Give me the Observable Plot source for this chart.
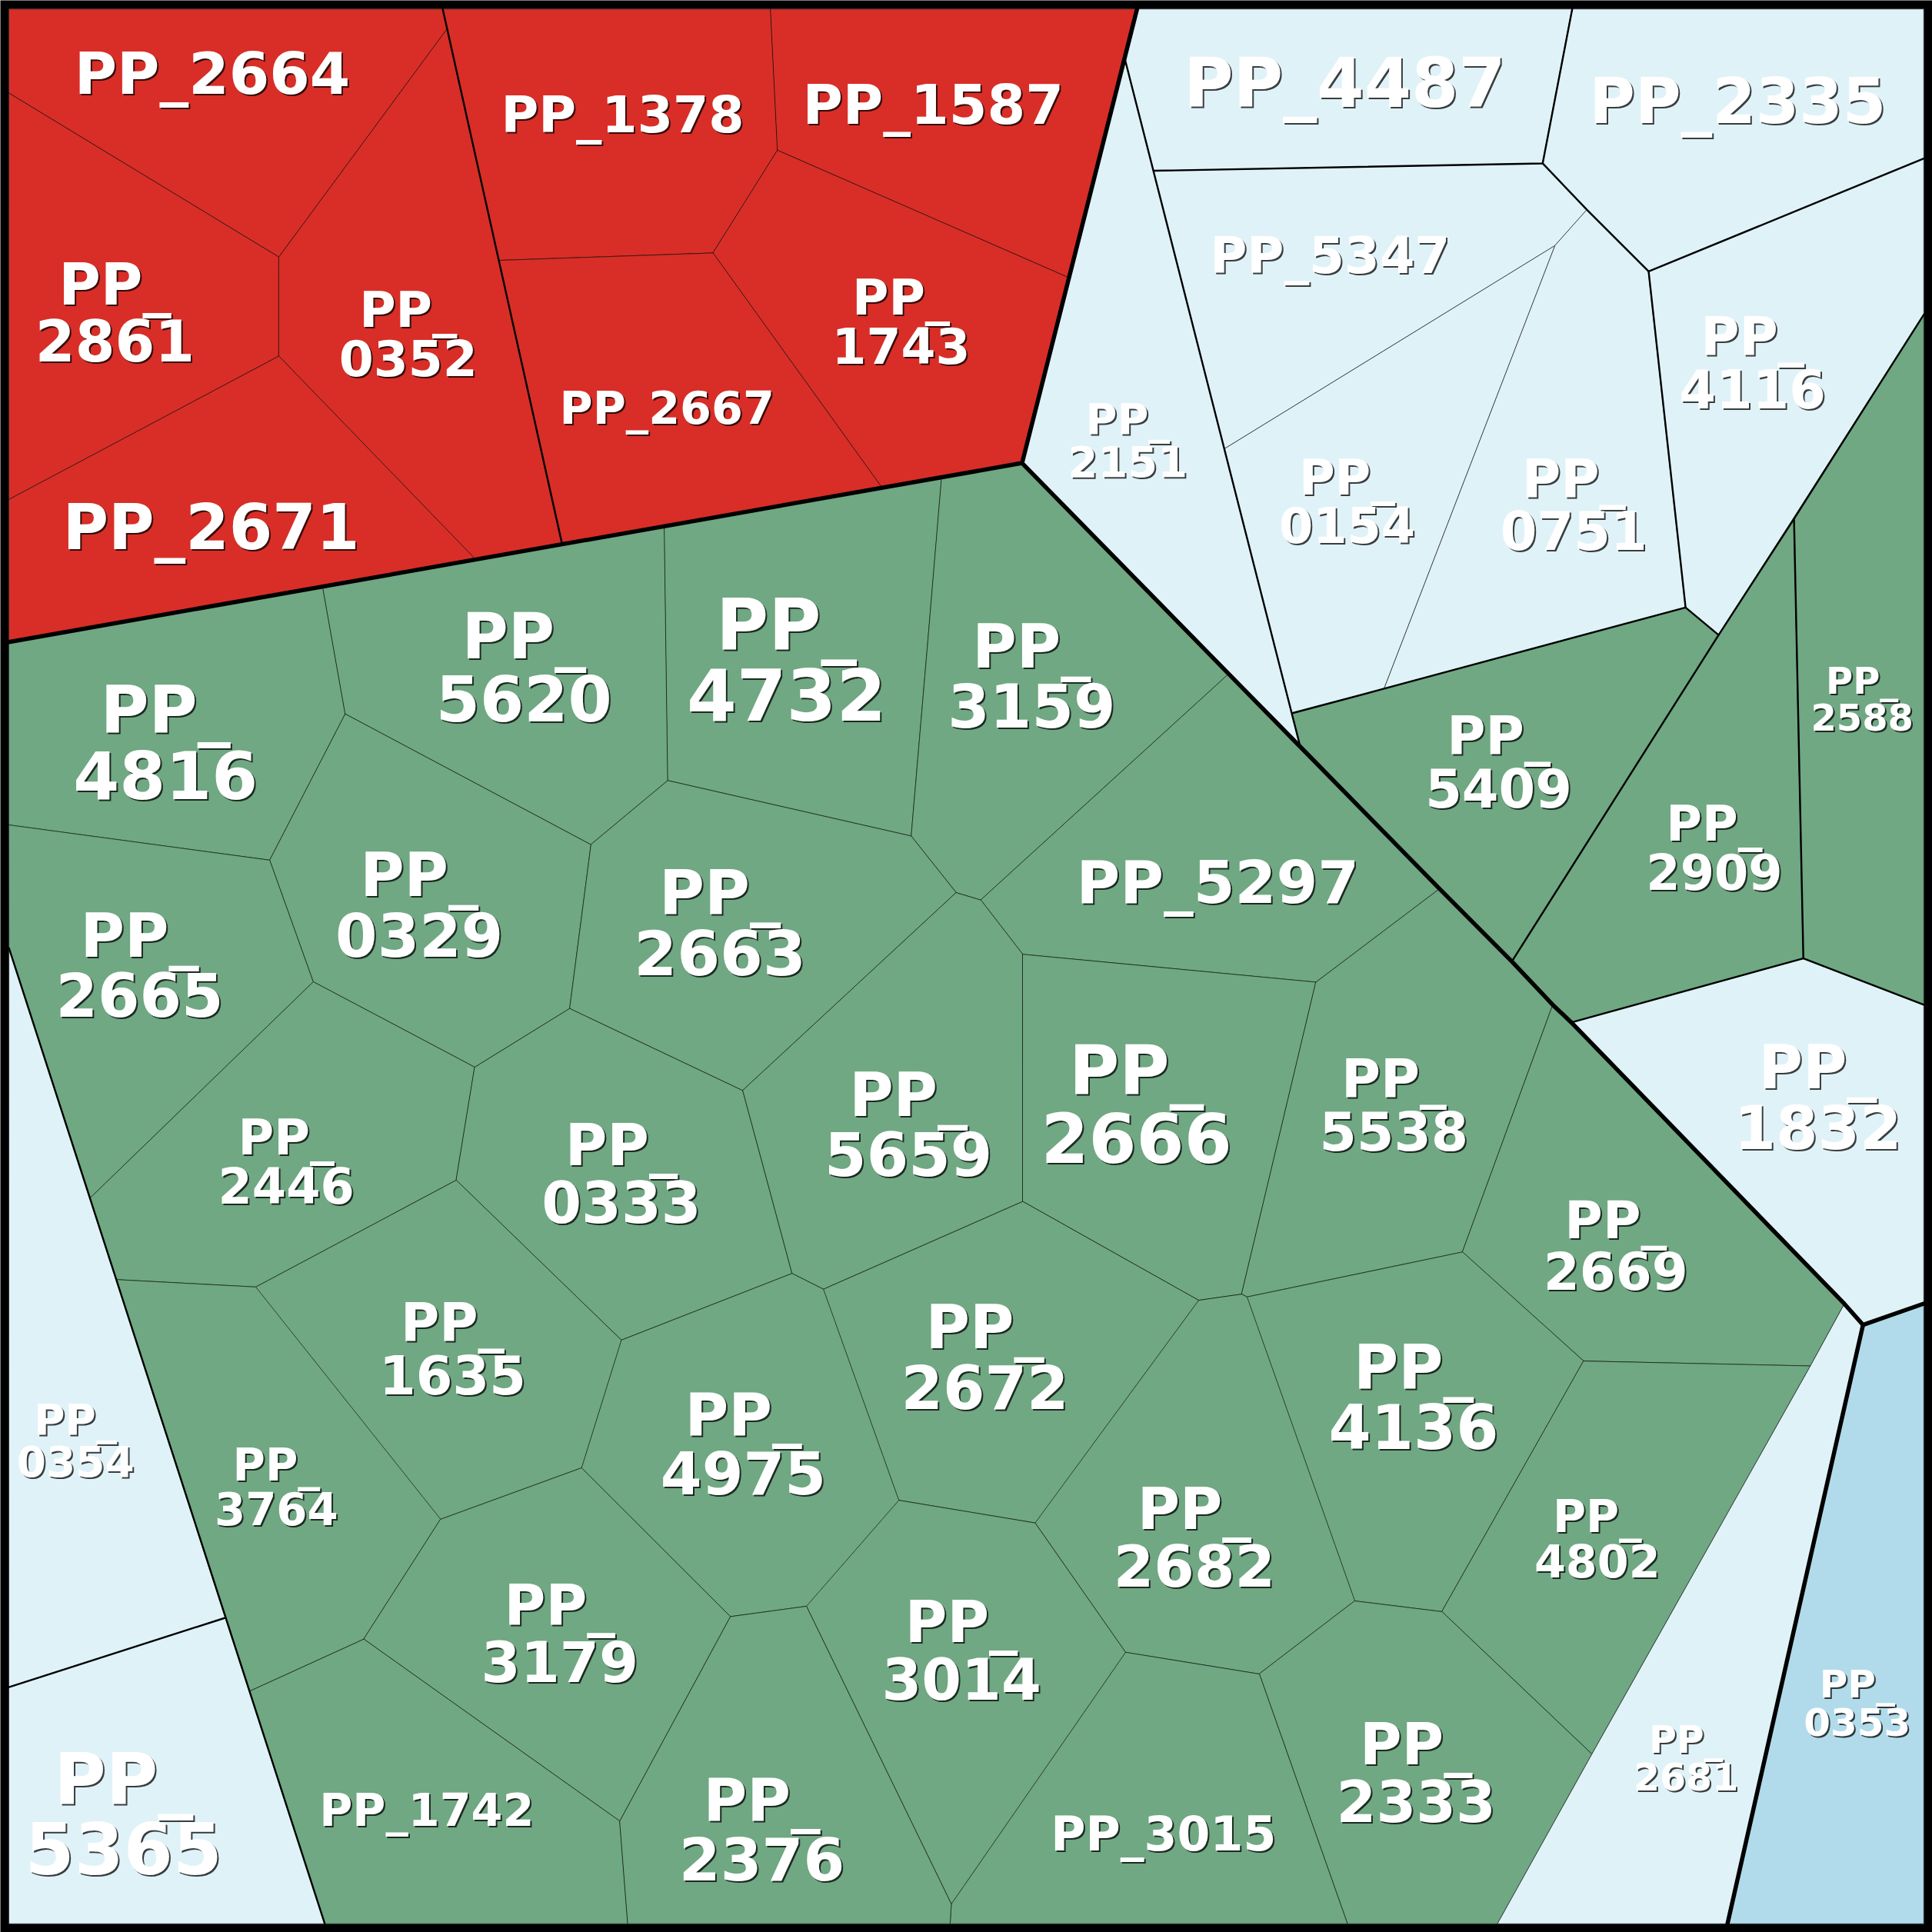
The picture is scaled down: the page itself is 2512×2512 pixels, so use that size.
<!DOCTYPE html>
<html><head><meta charset="utf-8">
<script src="https://cdn.jsdelivr.net/npm/d3@7"></script>
<script src="https://cdn.jsdelivr.net/npm/@observablehq/plot@0.6"></script>
<style>
html,body{margin:0;padding:0;background:#fff;}
svg{display:block;}
g.cell-labels text{filter:drop-shadow(2px 2px 0 rgba(0,0,0,0.75));}
</style>
</head><body><div id="chart"></div>
<script>
const groupNames = ["red", "green", "light", "blue"];
const groupColors = ["#d82e27", "#6fa882", "#dff2f8", "#b1dbea"];

const cellNames = [
  "PP_2664","PP_2861","PP_0352","PP_2671","PP_1378","PP_1587","PP_2667","PP_1743",
  "PP_4487","PP_2335","PP_5347","PP_2151","PP_0154","PP_0751","PP_4116",
  "PP_5409","PP_2909","PP_2588","PP_1832",
  "PP_4816","PP_5620","PP_4732","PP_3159","PP_5297","PP_2665","PP_0329","PP_2663",
  "PP_2446","PP_0333","PP_5659","PP_2666","PP_5538","PP_2669","PP_4136","PP_4802",
  "PP_2682","PP_2333","PP_3015","PP_2672","PP_3014","PP_4975","PP_1635","PP_3764",
  "PP_3179","PP_1742","PP_2376",
  "PP_0354","PP_5365","PP_2681","PP_0353"
];
const cellGroups = [
  "red","red","red","red","red","red","red","red",
  "light","light","light","light","light","light","light",
  "green","green","green","light",
  "green","green","green","green","green","green","green","green",
  "green","green","green","green","green","green","green","green",
  "green","green","green","green","green","green","green","green",
  "green","green","green",
  "light","light","light","blue"
];
// labels written on one line; the others wrap after "PP_"
const oneLineLabels = ["PP_2664","PP_1378","PP_1587","PP_2671","PP_2667","PP_5297","PP_1742","PP_3015","PP_4487","PP_2335","PP_5347"];

const cellPolygons = [
  [[7,7],[359,7],[362.6,23],[226,208.3],[7,75.3]],
  [[7,75.3],[226,208.3],[226,288.7],[7,405]],
  [[226,208.3],[362.6,23],[456,441.7],[386,454],[226,288.7]],
  [[7,405],[226,288.7],[386,454],[7,520.7]],
  [[359,7],[625.2,7],[630.8,121.7],[578.5,205],[404.5,211]],
  [[625.2,7],[922.5,7],[867,225],[630.8,121.7]],
  [[404.5,211],[578.5,205],[716,396],[456,441.7]],
  [[630.8,121.7],[867,225],[829.2,375.5],[716,396],[578.5,205]],
  [[922.5,7],[1275.7,7],[1251.7,132.3],[936,138.3],[912.4,46.7]],
  [[1275.7,7],[1561,7],[1561,128.3],[1337.7,220],[1287.7,170],[1251.7,132.3]],
  [[936,138.3],[1251.7,132.3],[1287.7,170],[1261.7,199],[993.3,364]],
  [[912.4,46.7],[1055,605.8],[829.2,375.5]],
  [[993.3,364],[1261.7,199],[1123,558.6],[1048.5,578.5]],
  [[1287.7,170],[1337.7,220],[1367.7,492.7],[1123,558.6],[1261.7,199]],
  [[1337.7,220],[1561,128.3],[1561,255],[1394.5,515],[1367.7,492.7]],
  [[1048.5,578.5],[1123,558.6],[1367.7,492.7],[1394.5,515],[1226.7,780],[1055,605.8]],
  [[1394.5,515],[1455.7,420.7],[1463.3,777.5],[1275,829.5],[1226.7,780]],
  [[1455.7,420.7],[1561,255],[1561,815.2],[1463.3,777.5]],
  [[1275,829.5],[1463.3,777.5],[1561,815.2],[1561,1057.7],[1511.7,1075],[1496.7,1058]],
  [[7,520.7],[261.7,475.9],[280,579.2],[218.7,697.8],[7,669.2]],
  [[261.7,475.9],[539,427.1],[541.8,633.2],[479.3,685.2],[280,579.2]],
  [[539,427.1],[764,387.5],[752.5,522.5],[739.2,678.2],[541.8,633.2]],
  [[764,387.5],[829.2,375.5],[997,546.7],[795.8,730.2],[775.8,724.2],[739.2,678.2],[752.5,522.5]],
  [[997,546.7],[1168,721],[1067.7,796.8],[829.8,774.2],[795.8,730.2]],
  [[7,669.2],[218.7,697.8],[254,796.5],[73,971.8],[7,769.2]],
  [[280,579.2],[479.3,685.2],[462,818.2],[385,865.8],[254,796.5],[218.7,697.8]],
  [[541.8,633.2],[739.2,678.2],[775.8,724.2],[602.5,884.8],[462,818.2],[479.3,685.2]],
  [[73,971.8],[254,796.5],[385,865.8],[370,957.5],[207.3,1044.2],[94.2,1038.2]],
  [[385,865.8],[462,818.2],[602.5,884.8],[642.5,1033.2],[504,1087.3],[370,957.5]],
  [[775.8,724.2],[795.8,730.2],[829.8,774.2],[829.8,974.8],[668,1046],[642.5,1033.2],[602.5,884.8]],
  [[829.8,774.2],[1067.7,796.8],[1007.5,1050],[972.5,1055],[829.8,974.8]],
  [[1067.7,796.8],[1168,721],[1260,815.3],[1186.7,1015.8],[1011.8,1052.3],[1007.5,1050]],
  [[1260,815.3],[1496.7,1058],[1469,1108.3],[1285,1104.3],[1186.7,1015.8]],
  [[1011.8,1052.3],[1186.7,1015.8],[1285,1104.3],[1170,1307.7],[1099.3,1299]],
  [[1285,1104.3],[1469,1108.3],[1291.7,1423.3],[1170,1307.7]],
  [[972.5,1055],[1007.5,1050],[1011.8,1052.3],[1099.3,1299],[1021.8,1358.3],[913.2,1340.7],[839.8,1235.7]],
  [[1099.3,1299],[1170,1307.7],[1291.7,1423.3],[1215,1561],[1093.3,1561],[1021.8,1358.3]],
  [[913.2,1340.7],[1021.8,1358.3],[1093.3,1561],[770.8,1561],[771.8,1545]],
  [[668,1046],[829.8,974.8],[972.5,1055],[839.8,1235.7],[729.2,1217.3]],
  [[729.2,1217.3],[839.8,1235.7],[913.2,1340.7],[771.8,1545],[654.2,1303.3]],
  [[504,1087.3],[642.5,1033.2],[668,1046],[729.2,1217.3],[654.2,1303.3],[592.5,1311.7],[471.7,1191]],
  [[207.3,1044.2],[370,957.5],[504,1087.3],[471.7,1191],[357.3,1232.7]],
  [[94.2,1038.2],[207.3,1044.2],[357.3,1232.7],[295,1330],[202.2,1372.3]],
  [[357.3,1232.7],[471.7,1191],[592.5,1311.7],[502.7,1477.7],[295,1330]],
  [[202.2,1372.3],[295,1330],[502.7,1477.7],[509.3,1561],[263.3,1561]],
  [[502.7,1477.7],[592.5,1311.7],[654.2,1303.3],[771.8,1545],[770.8,1561],[509.3,1561]],
  [[7,769.2],[182.5,1312.7],[7,1369]],
  [[7,1369],[182.5,1312.7],[263.3,1561],[7,1561]],
  [[1496.7,1058],[1511.7,1075],[1401.7,1561],[1215,1561],[1291.7,1423.3],[1469,1108.3]],
  [[1511.7,1075],[1561,1057.7],[1561,1561],[1401.7,1561]]
];

// label anchor (site) of each cell and label font size
const siteX = [172,93,331,171,505,757,541,731, 1091,1410,1079,915,1093,1277,1422, 1216,1391,1511,1475,
  134,425,638,837,988,113,340,584, 232,504,737,922,1131,1311,1147,1296, 969,1149,944,799,780,603,367,224, 454,346,618, 61,100,1368,1507];
const siteY = [61,255,272,429,94,86,332,262, 69,83,208,358,408,411,296, 620,689,568,892,
  604,543,537,550,717,785,736,750, 944,954,914,898,898,1012,1135,1250, 1249,1440,1489,1103,1341,1173,1096,1208, 1327,1470,1486, 1170,1474,1428,1383];
const labelSizes = [75.5,74.5,64.7,81.3,66.6,71.5,58.8,64.7, 88.2,81.3,65.7,55.9,63.7,68.6,68.6, 68.6,63.7,48,78.4,
  86.2,82.3,93.1,78.4,77.4,78.4,78.4,80.4, 63.7,74.5,78.4,89.2,69.6,67.6,79.4,58.8, 75.5,74.5,61.7,78.4,74.5,77.4,68.6,57.8, 73.5,58.8,77.4, 54.9,92.1,49,50];

// second-level and top-level boundaries
const mediumBorders = [
  [[359,7],[456,441.7]],
  [[912.4,46.7],[1055,605.8]],
  [[936,138.3],[1251.7,132.3],[1275.7,7]],
  [[1251.7,132.3],[1287.7,170],[1337.7,220],[1561,128.3]],
  [[1337.7,220],[1367.7,492.7],[1394.5,515]],
  [[1048.5,578.5],[1123,558.6],[1367.7,492.7]],
  [[1226.7,780],[1394.5,515],[1455.7,420.7],[1561,255]],
  [[1455.7,420.7],[1463.3,777.5]],
  [[1275,829.5],[1463.3,777.5],[1561,815.2]],
  [[7,769.2],[263.3,1561]],
  [[7,1369],[182.5,1312.7]]
];
const thickBorders = [
  [[7,520.7],[829.2,375.5],[922.5,7]],
  [[829.2,375.5],[997,546.7],[1055,605.8],[1168,721],[1226.7,780],[1260,815.3],[1275,829.5],[1496.7,1058],[1511.7,1075],[1561,1057.7]],
  [[1511.7,1075],[1401.7,1561]]
];

const cells = cellNames.map((name, i) => ({
  name,
  group: cellGroups[i],
  label: oneLineLabels.includes(name) ? name : name.replace("_", "_\n"),
  sx: siteX[i], sy: siteY[i], fs: labelSizes[i]
}));
const polyRows = cellPolygons.flatMap((poly, i) => poly.map(([x, y]) => ({name: cellNames[i], group: cellGroups[i], x, y})));
const borderRows = (list, prefix) => list.flatMap((pl, i) => pl.map(([x, y]) => ({id: prefix + i, x, y})));

const chart = Plot.plot({
  width: 2512, height: 2512, margin: 0,
  x: {domain: [0, 1568], range: [0, 2512], axis: null},
  y: {domain: [0, 1568], range: [0, 2512], axis: null},
  color: {domain: groupNames, range: groupColors},
  style: {background: "white"},
  marks: [
    Plot.line(polyRows, {x: "x", y: "y", z: "name", fill: "group", stroke: "black", strokeOpacity: 0.6, strokeWidth: 1, curve: "linear-closed"}),
    Plot.line(borderRows(mediumBorders, "m"), {x: "x", y: "y", z: "id", stroke: "black", strokeWidth: 2.4}),
    Plot.line(borderRows(thickBorders, "t"), {x: "x", y: "y", z: "id", stroke: "black", strokeWidth: 5.5}),
    Plot.frame({stroke: "black", strokeWidth: 11, inset: 5.5}),
    Plot.text(cells, {x: "sx", y: "sy", text: "label", fontSize: "fs", lineHeight: 1,
      fontFamily: "DejaVu Sans", fontWeight: "bold", fill: "white", className: "cell-labels"})
  ]
});
document.getElementById("chart").appendChild(chart);
</script>
</body></html>
